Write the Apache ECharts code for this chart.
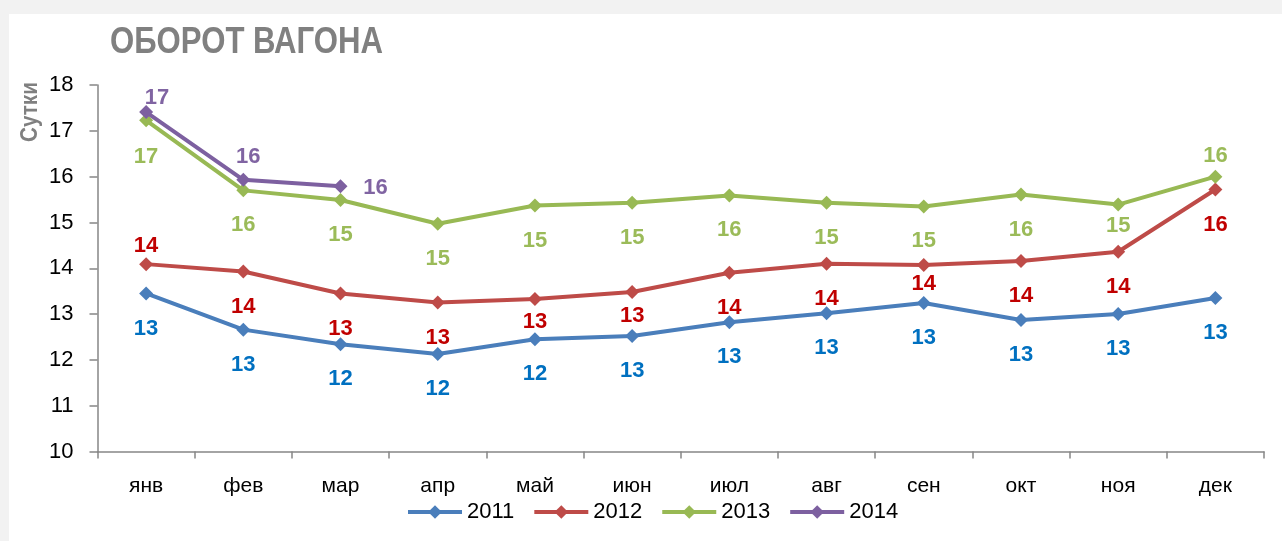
<!DOCTYPE html>
<html>
<head>
<meta charset="utf-8">
<script src="https://cdn.jsdelivr.net/npm/echarts@6/dist/echarts.min.js"></script>
<style>
html,body{margin:0;padding:0;background:#f2f2f2;}
#chart{width:1282px;height:541px;}
</style>
</head>
<body>
<div id="chart"></div>
<script>
// ---- data ----
const titleText = 'ОБОРОТ ВАГОНА';
const yAxisName = 'Сутки';
const categories = ['янв','фев','мар','апр','май','июн','июл','авг','сен','окт','ноя','дек'];
const seriesNames = ['2011','2012','2013','2014'];
const v2011 = [13.45,12.66,12.34,12.13,12.45,12.52,12.82,13.02,13.24,12.87,13.00,13.35];
const v2012 = [14.09,13.93,13.45,13.25,13.33,13.48,13.90,14.10,14.07,14.16,14.36,15.72];
const v2013 = [17.23,15.70,15.49,14.97,15.37,15.43,15.59,15.43,15.35,15.61,15.39,16.00];
const v2014 = [17.41,15.93,15.79];
const yMin = 10, yMax = 18, yStep = 1;

// ---- styles ----
const FONT = "'Liberation Sans Narrow','Liberation Sans',Arial,sans-serif";
const lineColors = ['#4a7ebb','#be4b48','#98b954','#7d60a0'];
const labelColors = ['#0070c0','#c00000','#9bbb59','#8064a2'];
// label offsets (dx, dy) relative to the marker centre
const below = [0,35];
const off2011 = categories.map(() => below);
const off2012 = [[0,-18],below,below,below,[0,23],[0,24],below,below,[0,19],below,below,below];
const off2013 = [[0,37],below,below,below,below,below,below,below,below,below,[0,21],[0,-21]];
const off2014 = [[11,-14],[5,-23],[35,2]];

function makeData(values, offsets) {
  return values.map((v, i) => ({
    value: v,
    label: { offset: offsets[i] }
  }));
}

function makeSeries(name, values, offsets, idx) {
  return {
    name: name,
    type: 'line',
    data: makeData(values, offsets),
    symbol: 'diamond',
    symbolSize: 14,
    lineStyle: { width: 4, color: lineColors[idx] },
    itemStyle: { color: lineColors[idx] },
    z: 2 + idx,
    label: {
      show: true,
      position: 'inside',
      formatter: p => Math.round(p.value),
      color: labelColors[idx],
      fontFamily: FONT,
      fontWeight: 'bold',
      fontSize: 22
    },
    emphasis: { disabled: true },
    animation: false
  };
}

const chart = echarts.init(document.getElementById('chart'), null, { renderer: 'canvas' });
chart.setOption({
  backgroundColor: '#f2f2f2',
  animation: false,
  graphic: [
    { type: 'rect', silent: true, z: -10, shape: { x: 9, y: 14, width: 1273, height: 527 }, style: { fill: '#ffffff' } },
    { type: 'text', silent: true, x: 30, y: 112, rotation: Math.PI / 2, scaleX: 0.86,
      style: { text: yAxisName, fill: '#808080', font: "bold 24px " + FONT, align: 'center', verticalAlign: 'middle' } },
    { type: 'text', silent: true, x: 110, y: 43, scaleX: 0.865,
      style: { text: titleText, fill: '#808080', font: "bold 36px " + FONT, align: 'left', verticalAlign: 'middle' } }
  ],
  legend: {
    data: seriesNames,
    left: 406,
    top: 501,
    padding: 0,
    itemWidth: 54,
    itemHeight: 17,
    itemGap: 18,
    lineStyle: { width: 4 },
    textStyle: { color: '#000', fontFamily: FONT, fontSize: 22 }
  },
  grid: { left: 97.5, right: 18, top: 85, bottom: 89.5, containLabel: false },
  xAxis: {
    type: 'category',
    data: categories,
    boundaryGap: true,
    axisLine: { lineStyle: { color: '#868686', width: 1.5 } },
    axisTick: { show: true, length: 7, inside: false, lineStyle: { color: '#868686', width: 1.5 } },
    axisLabel: { color: '#000', fontFamily: FONT, fontSize: 21, margin: 24 }
  },
  yAxis: {
    type: 'value',
    min: yMin, max: yMax, interval: yStep,
    splitLine: { show: false },
    axisLine: { show: true, lineStyle: { color: '#868686', width: 1.5 } },
    axisTick: { show: true, length: 8, lineStyle: { color: '#868686', width: 1.5 } },
    axisLabel: { color: '#000', fontFamily: FONT, fontSize: 22, margin: 24 }
  },
  series: [
    makeSeries(seriesNames[0], v2011, off2011, 0),
    makeSeries(seriesNames[1], v2012, off2012, 1),
    makeSeries(seriesNames[2], v2013, off2013, 2),
    makeSeries(seriesNames[3], v2014, off2014, 3)
  ]
});
</script>
</body>
</html>
